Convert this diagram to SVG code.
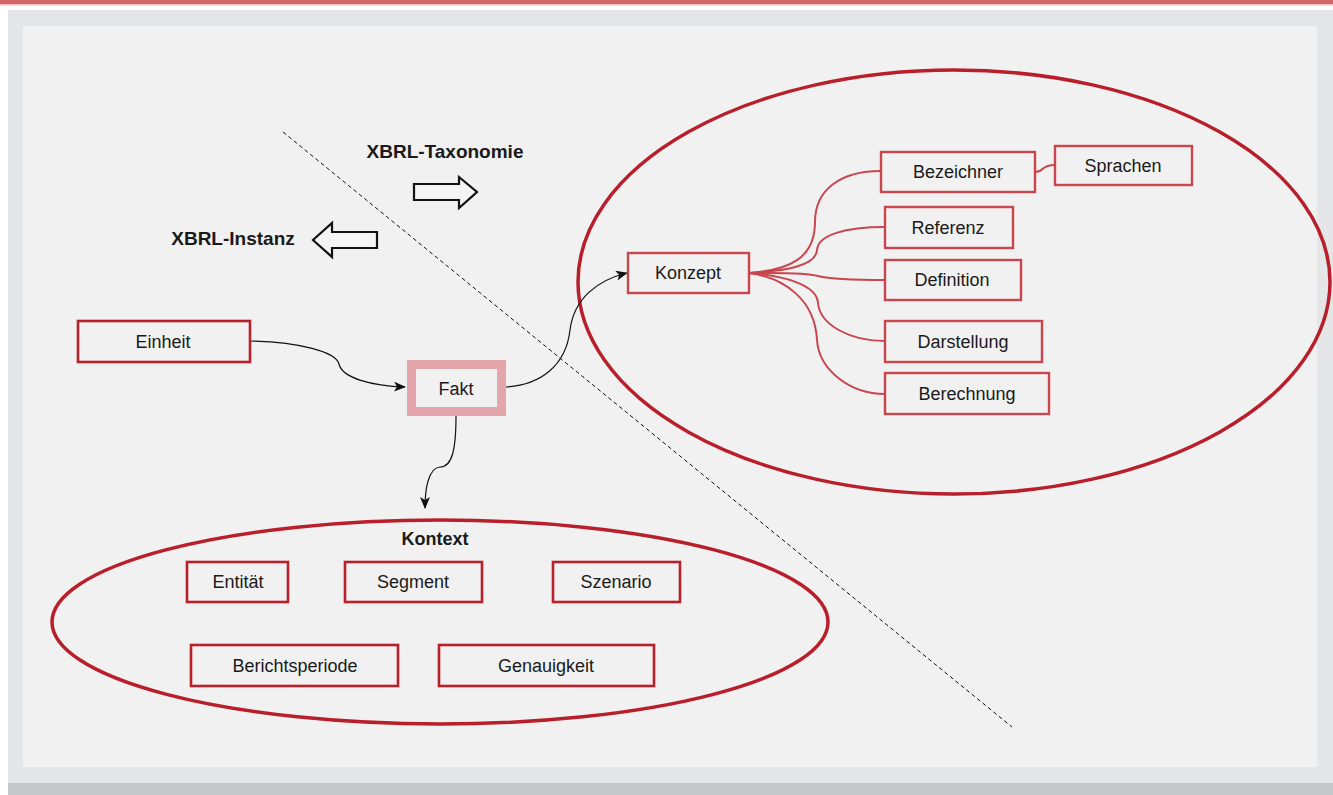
<svg xmlns="http://www.w3.org/2000/svg" width="1333" height="795" viewBox="0 0 1333 795">
<defs>
<style>
.lbl{font-family:"Liberation Sans",Arial,sans-serif;font-size:18px;fill:#1a1a1a;text-anchor:middle}
.bold{font-family:"Liberation Sans",Arial,sans-serif;font-weight:bold;fill:#1a1a1a;text-anchor:middle}
.dark{fill:#f1f1f1;stroke:#b8202a;stroke-width:2.6}
.light{fill:#f1f1f1;stroke:#c9464e;stroke-width:2.4}
.ell{fill:none;stroke:#b91f2a;stroke-width:3.5}
.conn{fill:none;stroke:#111;stroke-width:1.2}
.tree{fill:none;stroke:#c9464e;stroke-width:2}
.hollow{fill:#f4f4f4;stroke:#111;stroke-width:2.2;stroke-linejoin:miter}
</style>
<marker id="arr" viewBox="0 0 12 10" refX="11" refY="5" markerWidth="12" markerHeight="10" markerUnits="userSpaceOnUse" orient="auto">
<path d="M0,0 L12,5 L0,10 L3,5 Z" fill="#111"/>
</marker>
</defs>
<!-- frame -->
<rect x="0" y="0" width="1333" height="795" fill="#ffffff"/>
<rect x="0" y="0" width="1333" height="4.5" fill="#d06468"/>
<rect x="0" y="4.5" width="1333" height="1.2" fill="#f2c9cb"/>
<rect x="8" y="10" width="1325" height="785" fill="#e5e6e8"/>
<rect x="8" y="783" width="1325" height="12" fill="#c6c7c9"/>
<rect x="23" y="26" width="1294" height="741" fill="#f1f1f1"/>

<!-- dashed divider -->
<line x1="283" y1="132" x2="1012" y2="727" stroke="#111" stroke-width="1" stroke-dasharray="4 3"/>

<!-- ellipses -->
<ellipse id="taxonomie-ellipse" cx="954" cy="282" rx="376" ry="212" class="ell"/>
<ellipse id="kontext-ellipse" cx="440" cy="622" rx="388" ry="102" class="ell"/>

<!-- headings and hollow arrows -->
<g id="xbrl-taxonomie">
<text x="445" y="158" class="bold" font-size="19">XBRL-Taxonomie</text>
<path d="M414,184 L459,184 L459,177 L477,192 L459,208 L459,200 L414,200 Z" class="hollow"/>
</g>
<g id="xbrl-instanz">
<text x="233" y="245" class="bold" font-size="19">XBRL-Instanz</text>
<path d="M377,232 L332,232 L332,223 L313,240 L332,257 L332,248 L377,248 Z" class="hollow"/>
</g>

<!-- connectors -->
<g id="connectors">
<path class="conn" d="M250,341 C300,342 336,352 339,364 C342,378 372,386 405,387" marker-end="url(#arr)"/>
<path class="conn" d="M506,387 C540,385 566,366 570,330 C574,298 598,280 627,273" marker-end="url(#arr)"/>
<path class="conn" d="M456,416 C456,450 452,467 440,467 C428,468 425,490 425,508" marker-end="url(#arr)"/>
<path class="tree" d="M749,273 C790,270 815,258 815,222 C815,190 840,171 881,171"/>
<path class="tree" d="M749,273 C785,271 816,266 817,250 C818,235 845,227 885,227"/>
<path class="tree" d="M749,273 C775,273 805,272 818,276 C830,279 855,280 885,280"/>
<path class="tree" d="M749,273 C785,276 817,285 818,303 C820,325 850,341 885,341"/>
<path class="tree" d="M749,273 C785,278 815,300 817,340 C819,370 850,394 885,394"/>
<path class="tree" d="M1035,172 C1045,172 1040,165 1055,165"/>
</g>

<!-- nodes -->
<g id="einheit"><rect x="78" y="321" width="172" height="41" class="dark"/><text x="163" y="348" class="lbl">Einheit</text></g>
<g id="fakt"><rect x="411.5" y="364.5" width="90" height="47" fill="#f1f1f1" stroke="#e3a7ab" stroke-width="9"/><text x="456" y="395" class="lbl">Fakt</text></g>
<g id="konzept"><rect x="628" y="253" width="121" height="40" class="light"/><text x="688" y="279" class="lbl">Konzept</text></g>
<g id="bezeichner"><rect x="881" y="152" width="154" height="40" class="light"/><text x="958" y="178" class="lbl">Bezeichner</text></g>
<g id="sprachen"><rect x="1055" y="146" width="137" height="39" class="light"/><text x="1123" y="172" class="lbl">Sprachen</text></g>
<g id="referenz"><rect x="885" y="207" width="128" height="41" class="light"/><text x="948" y="234" class="lbl">Referenz</text></g>
<g id="definition"><rect x="885" y="260" width="136" height="40" class="light"/><text x="952" y="286" class="lbl">Definition</text></g>
<g id="darstellung"><rect x="885" y="321" width="157" height="41" class="light"/><text x="963" y="348" class="lbl">Darstellung</text></g>
<g id="berechnung"><rect x="885" y="373" width="164" height="41" class="light"/><text x="967" y="400" class="lbl">Berechnung</text></g>

<g id="kontext"><text x="435" y="545" class="bold" font-size="18">Kontext</text></g>
<g id="entitaet"><rect x="187" y="562" width="101" height="40" class="dark"/><text x="238" y="588" class="lbl">Entität</text></g>
<g id="segment"><rect x="345" y="562" width="137" height="40" class="dark"/><text x="413" y="588" class="lbl">Segment</text></g>
<g id="szenario"><rect x="553" y="562" width="127" height="40" class="dark"/><text x="616" y="588" class="lbl">Szenario</text></g>
<g id="berichtsperiode"><rect x="191" y="645" width="207" height="41" class="dark"/><text x="295" y="672" class="lbl">Berichtsperiode</text></g>
<g id="genauigkeit"><rect x="439" y="645" width="215" height="41" class="dark"/><text x="546" y="672" class="lbl">Genauigkeit</text></g>
</svg>
